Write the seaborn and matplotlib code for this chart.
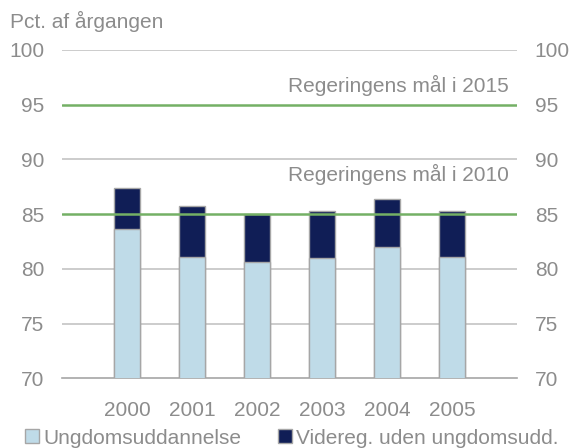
import numpy as np
import pandas as pd
import matplotlib
matplotlib.use("Agg")
import matplotlib.pyplot as plt
import seaborn as sns
from matplotlib.lines import Line2D

# data
years = ["2000", "2001", "2002", "2003", "2004", "2005"]
ungdom = [83.6, 81.1, 80.6, 81.0, 82.0, 81.1]
videreg = [3.8, 4.6, 4.4, 4.3, 4.4, 4.2]
goal_levels = [95, 85]
goal_labels = ["Regeringens mål i 2015", "Regeringens mål i 2010"]
y_ticks = [70, 75, 80, 85, 90, 95, 100]

LIGHT = "#bfdbe8"
DARK = "#101e56"
GREEN = "#74b065"
GREY_TXT = "#8c8c8c"
GRID = "#c4c4c4"
FS = 15

sns.set_theme(style="white")
plt.rcParams["font.family"] = ["Liberation Sans", "DejaVu Sans"]

df = pd.DataFrame({"year": years, "ungdom": ungdom,
                   "total": np.array(ungdom) + np.array(videreg)})

fig = plt.figure(figsize=(5.71, 4.48), dpi=100)
ax = fig.add_axes([0.109, 0.1556, 0.796, 0.7328])

# grey gridlines
for t in y_ticks:
    if t not in goal_levels and t != 70:
        ax.axhline(t, color=GRID, lw=1.2, zorder=0)

# stacked bars: total in dark, bottom part drawn over it in light
sns.barplot(data=df, x="year", y="total", color=DARK, width=0.4,
            edgecolor="#a6a6a6", linewidth=1.0, saturation=1, ax=ax, zorder=2)
sns.barplot(data=df, x="year", y="ungdom", color=LIGHT, width=0.4,
            edgecolor="#a6a6a6", linewidth=1.0, saturation=1, ax=ax, zorder=3)

# government goals
for lvl in goal_levels:
    ax.axhline(lvl, color=GREEN, lw=1.8, zorder=4)
for yy, lab in zip([96.8, 88.6], goal_labels):
    ax.text(5.88, yy, lab, ha="right", va="center", fontsize=FS, color=GREY_TXT)

ax.set_ylim(70, 100)
ax.set_xlim(-1, 6)
ax.set_yticks(y_ticks)
ax.set_xticks(list(range(-1, 7)))
ax.set_xticklabels([""] + years + [""])
ax.set_xlabel("")
ax.set_ylabel("")

for s in ["top", "left", "right"]:
    ax.spines[s].set_visible(False)
ax.spines["bottom"].set_color("#a6a6a6")
ax.spines["bottom"].set_linewidth(1.2)

ax.tick_params(axis="y", length=0, pad=13, labelsize=FS, labelcolor=GREY_TXT,
               labelright=True, labelleft=True)
ax.tick_params(axis="x", length=5, width=1.2, color="#a6a6a6", direction="out",
               pad=11, labelsize=FS, labelcolor=GREY_TXT)

fig.text(0.017, 0.952, "Pct. af årgangen", fontsize=FS, color=GREY_TXT,
         ha="left", va="center")

handles = [
    Line2D([], [], marker="s", ls="", markersize=10, markerfacecolor=LIGHT,
           markeredgecolor="#a6a6a6", label="Ungdomsuddannelse"),
    Line2D([], [], marker="s", ls="", markersize=10, markerfacecolor=DARK,
           markeredgecolor="#a6a6a6", label="Videreg. uden ungdomsudd."),
]
leg = fig.legend(handles=handles, loc="center left", bbox_to_anchor=(0.037, 0.022),
                 ncol=2, frameon=False, fontsize=FS, handletextpad=0.05,
                 columnspacing=1.6, handlelength=1.0, borderaxespad=0, borderpad=0)
for t in leg.get_texts():
    t.set_color(GREY_TXT)

fig.savefig("out.png", dpi=100)
